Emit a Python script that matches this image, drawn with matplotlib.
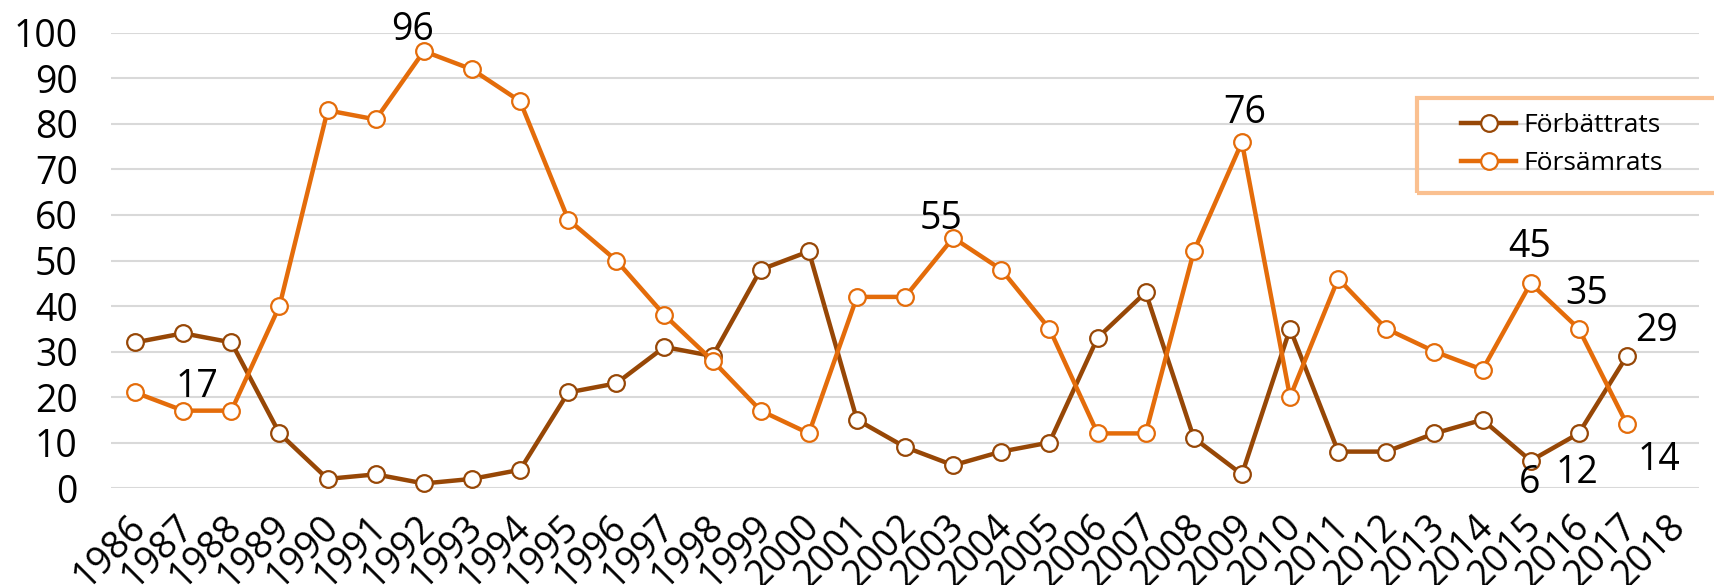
import matplotlib
matplotlib.use("Agg")
import matplotlib.pyplot as plt
from matplotlib.patches import Rectangle
from matplotlib.transforms import ScaledTranslation

plt.rcParams['font.family'] = ['Open Sans', 'DejaVu Sans']

# år på x-axeln (2018 finns som etikett men saknar värde)
years = [str(y) for y in range(1986, 2019)]

forbattrats = [32, 34, 32, 12, 2, 3, 1, 2, 4, 21, 23, 31, 29, 48, 52, 15,
               9, 5, 8, 10, 33, 43, 11, 3, 35, 8, 8, 12, 15, 6, 12, 29]
forsamrats = [21, 17, 17, 40, 83, 81, 96, 92, 85, 59, 50, 38, 28, 17, 12, 42,
              42, 55, 48, 35, 12, 12, 52, 76, 20, 46, 35, 30, 26, 45, 35, 14]

# vilka punkter som har dataetikett
labels_forb = ['2015', '2016', '2017']
labels_fors = ['1987', '1992', '2003', '2009', '2015', '2016', '2017']

brown = '#974706'
orange = '#E46C0A'

# förskjutning av etiketter i punkter (x, y till baslinjen)
offsets = {
    ('forb', '2015'): (-1, -23),
    ('forb', '2016'): (-1, -36),
    ('forb', '2017'): (21, 11),
    ('fors', '1987'): (10, 10),
    ('fors', '1992'): (-8, 8),
    ('fors', '2003'): (-9, 6),
    ('fors', '2009'): (2, 14),
    ('fors', '2015'): (-1, 19),
    ('fors', '2016'): (6, 18),
    ('fors', '2017'): (23, -33),
}

fig = plt.figure(figsize=(17.14, 5.85), dpi=100)
ax = fig.add_axes([0.0648, 0.1658, 0.9265, 0.7778])

x = list(range(len(years)))
for name, vals, col in [('Förbättrats', forbattrats, brown),
                        ('Försämrats', forsamrats, orange)]:
    ax.plot(x[:len(vals)], vals, color=col, lw=3.2, marker='o', ms=12,
            mfc='white', mec=col, mew=1.6, label=name, clip_on=False, zorder=3)

for key, yrs, vals in [('forb', labels_forb, forbattrats),
                       ('fors', labels_fors, forsamrats)]:
    for yr in yrs:
        i = years.index(yr)
        dx, dy = offsets[(key, yr)]
        ax.annotate(str(vals[i]), (i, vals[i]), xytext=(dx, dy),
                    textcoords='offset points', ha='center', va='baseline',
                    fontsize=27, color='black', zorder=4)

ax.set_xlim(-0.5, len(years) - 0.5)
ax.set_ylim(0, 100)
ax.set_yticks(range(0, 101, 10))
ax.set_xticks(x)
ax.set_xticklabels(years, rotation=45, ha='right', va='center',
                   rotation_mode='anchor')
ax.tick_params(axis='both', length=0, labelsize=27)
ax.tick_params(axis='y', pad=24)
ax.tick_params(axis='x', pad=24)
shift = ScaledTranslation(5 / 100, 0, fig.dpi_scale_trans)
for lab in ax.get_xticklabels():
    lab.set_transform(lab.get_transform() + shift)
ax.grid(axis='y', color='#D9D9D9', lw=1.5)
ax.set_axisbelow(True)
for s in ax.spines.values():
    s.set_visible(False)

# ram runt förklaringen
fig.patches.append(Rectangle((1417 / 1714, 1 - 193 / 585), 0.2, 95 / 585,
                             transform=fig.transFigure, fill=False,
                             edgecolor='#FAC090', lw=3, zorder=5))
leg = fig.legend(*ax.get_legend_handles_labels(), loc='center left',
                 bbox_to_anchor=(1461 / 1714, 1 - 144.5 / 585), fontsize=19,
                 frameon=False, handlelength=2.1, borderpad=0,
                 labelspacing=0.5, handletextpad=0.25, borderaxespad=0)

fig.savefig('out.png', dpi=100)
